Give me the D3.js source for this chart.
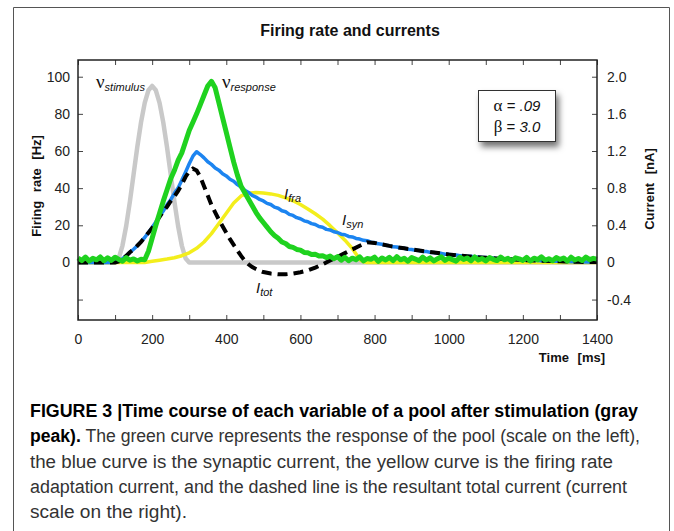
<!DOCTYPE html>
<html>
<head>
<meta charset="utf-8">
<script src="https://cdn.jsdelivr.net/npm/d3@7"></script>
<style>
  body { margin: 0; background: #fff; }
  text { font-family: "Liberation Sans", Arial, sans-serif; }
</style>
</head>
<body>
<div id="chart"></div>
<script>
// sampling interval of the dense series (ms)
const sampleStep = 10;

// green: response firing rate [Hz], t = 0..1400 every 10 ms
const responseHz = [
  2.4, 1.0, 2.9, 0.8, 2.2, 1.4, 3.0, 0.9, 2.5, 1.1, 2.8, 1.6, 0.7, 2.6, 1.2, 1.9, 0.8, 1.7, 1.5,
  6, 13, 20, 26.5, 33, 39, 45, 49.5, 55, 59,
  65, 71, 75.5, 80, 85, 90, 95, 97.5, 94, 86,
  78, 70, 62, 54, 47, 41, 37.5, 34, 30.5, 27,
  24, 21.5, 19, 16.5, 14.5, 13, 11, 10.2, 8.6, 8.1,
  7, 6.6, 5.4, 5.2, 4.3, 4.4, 3.5, 3.6, 2.6, 3.4,
  2.0, 3.1,
  1.2, 2.8, 0.9, 2.3, 1.5, 3.0, 0.8, 2.1, 1.7, 2.9,
  0.6, 2.4, 1.3, 2.7, 1.0, 3.1, 1.4, 2.2, 0.7, 2.6,
  1.8, 0.9, 2.9, 1.2, 2.5, 0.8, 2.0, 3.0, 1.1, 2.3,
  1.5, 0.7, 2.8, 1.6, 2.4, 0.9, 3.0, 1.3, 2.1, 0.8,
  2.6, 1.7, 1.0, 2.9, 1.4, 2.2, 0.6, 2.5, 1.9, 1.1,
  2.7, 0.8, 2.3, 1.5, 3.0, 1.2, 2.0, 0.9, 2.6, 1.6,
  2.4, 0.7, 2.8, 1.3, 2.1, 1.0, 2.9, 1.5, 2.2, 1.8
];

// blue: synaptic current I_syn [nA], t = 0..1400 every 10 ms
const synNA = [
  0, 0, 0, 0, 0, 0, 0, 0, 0, 0, 0.004,
  0.012, 0.04, 0.072, 0.108, 0.142, 0.18, 0.224, 0.268, 0.322, 0.376,
  0.436, 0.498, 0.554, 0.62, 0.676, 0.744, 0.802, 0.884, 0.972, 1.062,
  1.144, 1.192, 1.162, 1.126, 1.084, 1.056, 1.018, 0.994, 0.956, 0.932,
  0.896, 0.874, 0.838, 0.812, 0.776, 0.754, 0.722, 0.704, 0.678, 0.662,
  0.636, 0.624, 0.596, 0.584, 0.556, 0.546, 0.518, 0.506, 0.482, 0.47,
  0.448, 0.438, 0.418, 0.408, 0.386, 0.378, 0.356, 0.35, 0.33, 0.322,
  0.304, 0.298, 0.28, 0.274, 0.258, 0.252, 0.238, 0.234, 0.218, 0.214,
  0.2, 0.196, 0.184, 0.18, 0.168, 0.166, 0.154, 0.152, 0.142, 0.14,
  0.13, 0.128, 0.118, 0.118, 0.108, 0.106, 0.098, 0.098, 0.088, 0.088,
  0.08, 0.08, 0.072, 0.072, 0.064, 0.066, 0.058, 0.058, 0.052, 0.052,
  0.046, 0.048, 0.04, 0.042, 0.036, 0.038, 0.032, 0.032, 0.028, 0.028,
  0.024, 0.026, 0.02, 0.022, 0.018, 0.018, 0.014, 0.016, 0.012, 0.012,
  0.01, 0.01, 0.008, 0.008, 0.006, 0.006, 0.004, 0.006, 0.004, 0.004
];

// gray: stimulus [Hz]
const stimulusTime = [0, 100, 110, 120, 130, 140, 150, 160, 170, 180, 190, 200,
  210, 220, 230, 240, 250, 260, 270, 280, 290, 300, 1400];
const stimulusHz = [0, 0, 2.3, 9.1, 19.6, 32.8, 47.5, 62.2, 75.4, 85.9, 92.7, 95,
  92.7, 85.9, 75.4, 62.2, 47.5, 32.8, 19.6, 9.1, 2.3, 0, 0];

// yellow: firing rate adaptation current I_fra [nA]
const fraTime = [0, 100, 180, 200, 220, 240, 260, 280, 300, 320,
  340, 360, 380, 400, 420, 440, 460, 480, 500, 520,
  540, 560, 580, 600, 620, 640, 660, 680, 700, 720,
  740, 750, 760, 770, 780, 790, 800, 1400];
const fraNA = [0, 0, 0, 0.012, 0.024, 0.036, 0.05, 0.072, 0.104, 0.152,
  0.22, 0.31, 0.42, 0.53, 0.64, 0.716, 0.746, 0.752, 0.748, 0.738,
  0.722, 0.696, 0.664, 0.624, 0.576, 0.524, 0.466, 0.396, 0.32, 0.24,
  0.15, 0.09, 0.03, 0.006, 0, 0, 0, 0];

// black dashed: total current I_tot [nA]
const totTime = [0, 100,
  110, 120, 130, 140, 150, 160, 170, 180, 190, 200,
  210, 220, 230, 240, 250, 260, 270, 280, 290, 300,
  310, 320, 330, 340, 350, 360, 370, 380, 390, 400,
  410, 420, 430, 440, 450, 460, 470, 480, 490, 500,
  520, 540, 560, 580, 600, 620, 640, 660, 680, 700,
  720, 740, 760, 780, 800, 820, 840, 860, 880, 900,
  950, 1000, 1050, 1100, 1150, 1200, 1250, 1300, 1350, 1400];
const totNA = [0, 0,
  0.01, 0.04, 0.07, 0.11, 0.14, 0.18, 0.22, 0.27, 0.32, 0.37,
  0.43, 0.49, 0.55, 0.6, 0.66, 0.71, 0.77, 0.84, 0.92, 0.98,
  1.01, 0.99, 0.92, 0.82, 0.72, 0.62, 0.54, 0.46, 0.39, 0.32,
  0.25, 0.19, 0.13, 0.07, 0.02, -0.02, -0.05, -0.07, -0.09, -0.104,
  -0.12, -0.128, -0.128, -0.12, -0.106, -0.086, -0.056, -0.02, 0.02, 0.06,
  0.1, 0.14, 0.18, 0.216, 0.21, 0.194, 0.178, 0.164, 0.152, 0.14,
  0.112, 0.086, 0.066, 0.05, 0.036, 0.026, 0.018, 0.012, 0.006, 0.004];

// axis ticks
const timeTicks = [0, 100, 200, 300, 400, 500, 600, 700, 800, 900, 1000, 1100, 1200, 1300, 1400];
const rateTicks = [-20, 0, 20, 40, 60, 80, 100];
const currentTicks = [-0.4, 0, 0.4, 0.8, 1.2, 1.6, 2.0];
const currentLabels = ["-0.4", "0", "0.4", "0.8", "1.2", "1.6", "2.0"];

const captionLines = [
  [{ t: "FIGURE 3 |Time course of each variable of a pool after stimulation (gray", b: true }],
  [{ t: "peak).", b: true }, { t: " The green curve represents the response of the pool (scale on the left),", b: false }],
  [{ t: "the blue curve is the synaptic current, the yellow curve is the firing rate", b: false }],
  [{ t: "adaptation current, and the dashed line is the resultant total current (current", b: false }],
  [{ t: "scale on the right).", b: false }]
];
const captionWidths = [608, 610, 583, 597, 157];

const width = 674;
const height = 531;
const margin = { top: 60, right: 77, bottom: 211, left: 78 };
const plotW = width - margin.left - margin.right;
const plotH = height - margin.top - margin.bottom;

const svg = d3.select("#chart").append("svg")
  .attr("width", width)
  .attr("height", height);

const defs = svg.append("defs");
const shadow = defs.append("filter").attr("id", "shadow")
  .attr("x", "-20%").attr("y", "-20%").attr("width", "150%").attr("height", "170%");
shadow.append("feDropShadow")
  .attr("dx", 3).attr("dy", 5).attr("stdDeviation", 3)
  .attr("flood-color", "#000").attr("flood-opacity", 0.55);

// figure border (open at the bottom)
svg.append("path")
  .attr("d", `M13.5,${height + 2}V7.5H669.5V${height + 2}`)
  .attr("fill", "none").attr("stroke", "#555").attr("stroke-width", 1);

svg.append("text")
  .attr("x", 350).attr("y", 36)
  .attr("text-anchor", "middle")
  .attr("font-size", 16).attr("font-weight", "bold")
  .attr("fill", "#111")
  .text("Firing rate and currents");

const g = svg.append("g").attr("transform", `translate(${margin.left},${margin.top})`);

// scales
const x = d3.scaleLinear().domain([0, 1400]).range([0, plotW]);
const yRate = d3.scaleLinear().domain([-31, 109]).range([plotH, 0]);
const yCur = d3.scaleLinear().domain([-0.62, 2.18]).range([plotH, 0]);

// axes (ticks inward)
function styleAxis(sel) {
  sel.select(".domain").remove();
  sel.selectAll(".tick line").attr("stroke", "#444");
  sel.selectAll(".tick text").attr("fill", "#222").attr("font-size", 14)
    .attr("font-family", "Liberation Sans, Arial, sans-serif");
}

g.append("g").attr("transform", `translate(0,${plotH})`)
  .call(d3.axisBottom(x).tickValues(timeTicks).tickSizeInner(-5).tickSizeOuter(0)
    .tickPadding(14).tickFormat((d) => (d % 200 === 0 ? d : "")))
  .call(styleAxis);

g.append("g")
  .call(d3.axisTop(x).tickValues(timeTicks).tickSizeInner(-5).tickSizeOuter(0).tickFormat(""))
  .call(styleAxis);

g.append("g")
  .call(d3.axisLeft(yRate).tickValues(rateTicks).tickSizeInner(-5).tickSizeOuter(0)
    .tickPadding(8).tickFormat((d) => (d < 0 ? "" : d)))
  .call(styleAxis);

g.append("g").attr("transform", `translate(${plotW},0)`)
  .call(d3.axisRight(yCur).tickValues(currentTicks).tickSizeInner(-5).tickSizeOuter(0)
    .tickPadding(10).tickFormat((d, i) => currentLabels[i]))
  .call(styleAxis);

// lines
const rateLine = d3.line().x((d) => x(d[0])).y((d) => yRate(d[1]));
const curLine = d3.line().x((d) => x(d[0])).y((d) => yCur(d[1]));

const plot = g.append("g");

plot.append("path")
  .datum(stimulusTime.map((t, i) => [t, stimulusHz[i]]))
  .attr("d", rateLine)
  .attr("fill", "none").attr("stroke", "#c9c9c9").attr("stroke-width", 4.5)
  .attr("stroke-linejoin", "round");

plot.append("path")
  .datum(fraTime.map((t, i) => [t, fraNA[i]]))
  .attr("d", curLine)
  .attr("fill", "none").attr("stroke", "#f3ee1c").attr("stroke-width", 3.5)
  .attr("stroke-linejoin", "round");

plot.append("path")
  .datum(synNA.map((v, i) => [i * sampleStep, v]))
  .attr("d", curLine)
  .attr("fill", "none").attr("stroke", "#1c84f0").attr("stroke-width", 3.5)
  .attr("stroke-linejoin", "round");

plot.append("path")
  .datum(totTime.map((t, i) => [t, totNA[i]]))
  .attr("d", curLine)
  .attr("fill", "none").attr("stroke", "#000").attr("stroke-width", 4)
  .attr("stroke-dasharray", "10,6");

plot.append("path")
  .datum(responseHz.map((v, i) => [i * sampleStep, v]))
  .attr("d", rateLine)
  .attr("fill", "none").attr("stroke", "#1fd21f").attr("stroke-width", 5)
  .attr("stroke-linejoin", "round");

// plot frame
g.append("rect")
  .attr("width", plotW).attr("height", plotH)
  .attr("fill", "none").attr("stroke", "#222").attr("stroke-width", 1.5);

// curve labels
function curveLabel(px, py, main, sub, serif) {
  const t = svg.append("text").attr("x", px).attr("y", py).attr("fill", "#111");
  t.append("tspan").text(main)
    .attr("font-size", serif ? 19 : 15)
    .attr("font-style", serif ? "normal" : "italic")
    .attr("font-family", serif ? "Liberation Serif, Times New Roman, serif" : "Liberation Sans, Arial, sans-serif");
  t.append("tspan").text(sub).attr("dy", 3)
    .attr("font-size", 11).attr("font-style", "italic");
}
curveLabel(96, 88, "\u03bd", "stimulus", true);
curveLabel(222, 88, "\u03bd", "response", true);
curveLabel(284, 199, "I", "fra", false);
curveLabel(342, 225, "I", "syn", false);
curveLabel(256, 293, "I", "tot", false);

// parameter box
svg.append("rect")
  .attr("x", 478.5).attr("y", 90.5).attr("width", 77).attr("height", 51)
  .attr("fill", "#fff").attr("stroke", "#333").attr("stroke-width", 1)
  .attr("filter", "url(#shadow)");
const params = [["\u03b1", ".09", 111], ["\u03b2", "3.0", 132]];
params.forEach(([sym, val, py]) => {
  const t = svg.append("text").attr("x", 517).attr("y", py)
    .attr("text-anchor", "middle").attr("font-size", 15).attr("fill", "#111");
  t.append("tspan").text(sym).attr("font-family", "Liberation Serif, Times New Roman, serif").attr("font-size", 17);
  t.append("tspan").text(" = ");
  t.append("tspan").text(val).attr("font-style", "italic");
});

// axis titles
svg.append("text")
  .attr("transform", "translate(41,186) rotate(-90)")
  .attr("text-anchor", "middle").attr("font-size", 13).attr("font-weight", "bold")
  .attr("word-spacing", 5).attr("fill", "#111")
  .text("Firing rate [Hz]");
svg.append("text")
  .attr("transform", "translate(654,189) rotate(-90)")
  .attr("text-anchor", "middle").attr("font-size", 13).attr("font-weight", "bold")
  .attr("word-spacing", 5).attr("fill", "#111")
  .text("Current [nA]");
svg.append("text")
  .attr("x", 605).attr("y", 362)
  .attr("text-anchor", "end").attr("font-size", 13).attr("font-weight", "bold")
  .attr("word-spacing", 5).attr("fill", "#111")
  .text("Time [ms]");

// caption
captionLines.forEach((parts, i) => {
  const t = svg.append("text")
    .attr("x", 30).attr("y", 417 + i * 25.3)
    .attr("font-size", 18)
    .attr("font-family", "Liberation Sans Narrow, DejaVu Sans Condensed, Arial Narrow, sans-serif")
    .attr("fill", "#222")
    .attr("textLength", captionWidths[i])
    .attr("lengthAdjust", "spacingAndGlyphs");
  parts.forEach((p) => {
    t.append("tspan").text(p.t)
      .attr("font-weight", p.b ? "bold" : "normal")
      .attr("fill", p.b ? "#000" : "#333");
  });
});
</script>
</body>
</html>
